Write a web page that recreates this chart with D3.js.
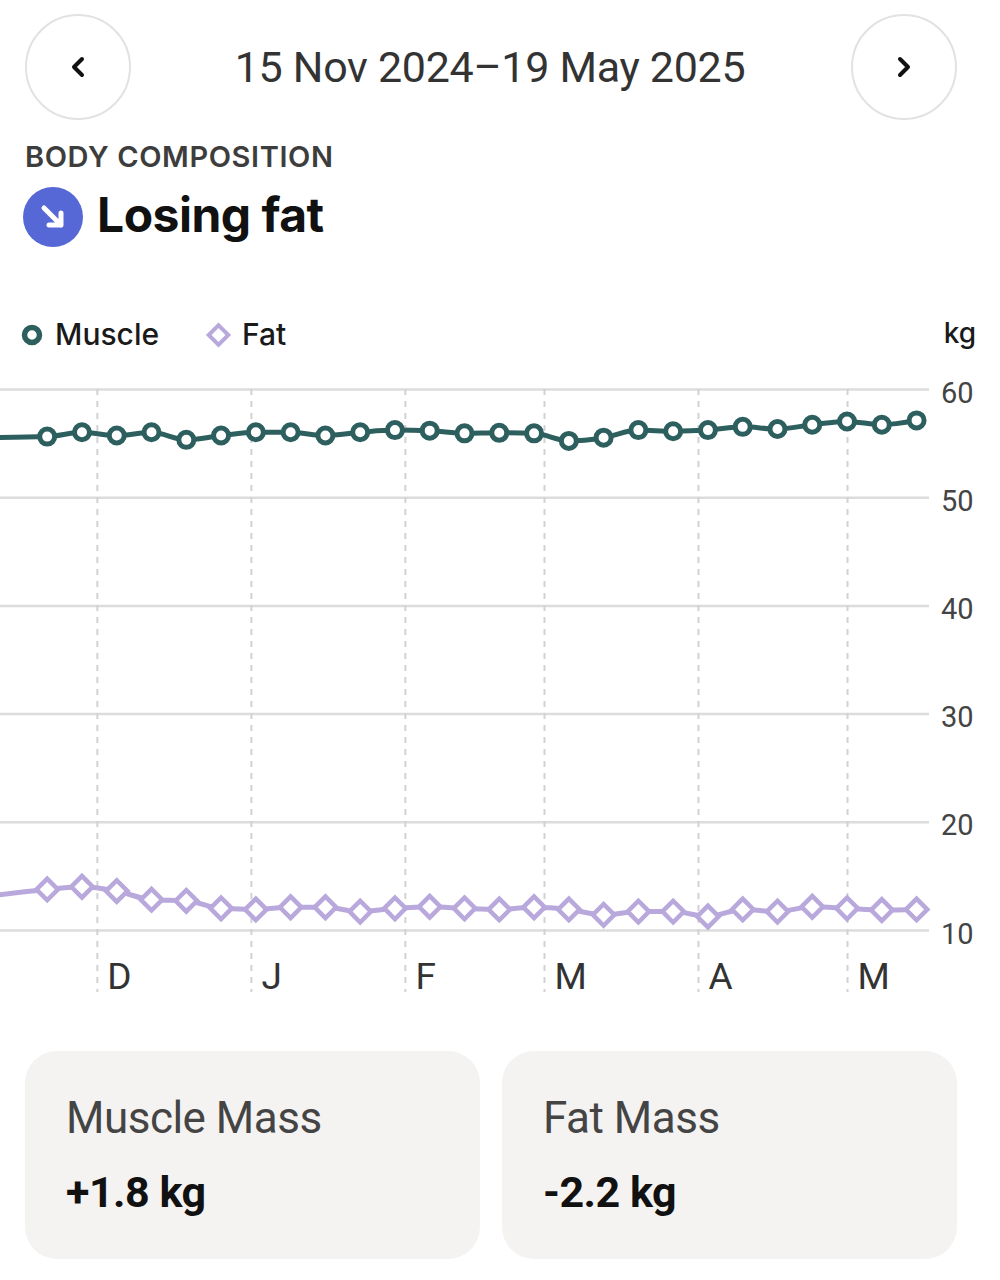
<!DOCTYPE html>
<meta charset="utf-8">

<style type="text/css">

	body {
	    margin: 0;
	    background: #fff;
	}

	/* lines are plain strokes, no fill */
	.line {
	    fill: none;
	}

	.y.axis text {
	    font-family: Roboto, sans-serif;
	    font-size: 29px;
	    fill: #444;
	}

	.x.axis text {
	    font-family: Roboto, sans-serif;
	    font-size: 37px;
	    fill: #333;
	}

</style>
<body>
</body>

<!-- Load in the d3 library -->
<script src="https://d3js.org/d3.v7.min.js"></script>
<script>

// weekly weigh-ins (first one sits just left of the visible window)
var dates = ["2024-11-07", "2024-11-21", "2024-11-28", "2024-12-05", "2024-12-12", "2024-12-19", "2024-12-26",
             "2025-01-02", "2025-01-09", "2025-01-16", "2025-01-23", "2025-01-30", "2025-02-06", "2025-02-13",
             "2025-02-20", "2025-02-27", "2025-03-06", "2025-03-13", "2025-03-20", "2025-03-27", "2025-04-03",
             "2025-04-10", "2025-04-17", "2025-04-24", "2025-05-01", "2025-05-08", "2025-05-15"];

var muscle = [55.5, 55.6, 56.0, 55.7, 56.0, 55.3, 55.7,
              56.0, 56.0, 55.7, 56.0, 56.2, 56.15, 55.9,
              55.95, 55.9, 55.2, 55.5, 56.2, 56.1, 56.2,
              56.5, 56.3, 56.7, 57.0, 56.7, 57.1];

var fat = [13.0, 13.75, 14.0, 13.6, 12.8, 12.7, 12.0,
           11.9, 12.1, 12.1, 11.7, 12.0, 12.15, 12.0,
           11.9, 12.1, 11.9, 11.4, 11.7, 11.7, 11.25,
           11.9, 11.7, 12.15, 12.0, 11.85, 11.9];

// axis ticks
var monthTicks = ["2024-12-01", "2025-01-01", "2025-02-01", "2025-03-01", "2025-04-01", "2025-05-01"];
var monthLabels = ["D", "J", "F", "M", "A", "M"];
var kgTicks = [10, 20, 30, 40, 50, 60];

// texts
var dateRange = "15 Nov 2024\u201319 May 2025";
var seriesNames = ["Muscle", "Fat"];
var summaryLabels = ["Muscle Mass", "Fat Mass"];
var summaryValues = ["+1.8 kg", "-2.2 kg"];

var teal = "#2e5f5f",
    lilac = "#b9a8dc";

var parse = d3.timeParse("%Y-%m-%d");

var width = 1000, height = 1280;
var plotRight = 929, plotTop = 389, plotBottom = 930;

var svg = d3.select("body").append("svg")
    .attr("width", width)
    .attr("height", height);

// ---------- header ----------
var navX = [78, 904];
svg.selectAll(".nav")
    .data(navX)
  .enter().append("circle")
    .attr("class", "nav")
    .attr("cx", function(d) { return d; })
    .attr("cy", 67)
    .attr("r", 52)
    .attr("fill", "#fff")
    .attr("stroke", "#e2e2e2")
    .attr("stroke-width", 2);

// chevrons
svg.append("path")
    .attr("d", "M82,59 L74,67 L82,75")
    .attr("fill", "none").attr("stroke", "#111").attr("stroke-width", 4)
    .attr("stroke-linecap", "round").attr("stroke-linejoin", "round");
svg.append("path")
    .attr("d", "M900,59 L908,67 L900,75")
    .attr("fill", "none").attr("stroke", "#111").attr("stroke-width", 4)
    .attr("stroke-linecap", "round").attr("stroke-linejoin", "round");

svg.append("text")
    .attr("x", 490).attr("y", 82)
    .attr("text-anchor", "middle")
    .style("font-family", "Roboto, sans-serif")
    .style("font-size", "43px")
    .style("letter-spacing", "-0.3px")
    .attr("fill", "#333")
    .text(dateRange);

svg.append("text")
    .attr("x", 25).attr("y", 167)
    .style("font-family", "Inter, sans-serif")
    .style("font-size", "29px")
    .style("font-weight", 600)
    .style("letter-spacing", "0.6px")
    .attr("fill", "#3d3d3d")
    .text("BODY COMPOSITION");

// trend badge
svg.append("circle")
    .attr("cx", 53).attr("cy", 217).attr("r", 30)
    .attr("fill", "#5667d6");
svg.append("path")
    .attr("d", "M44,208 L61,225 M61,213 L61,225 L49,225")
    .attr("fill", "none").attr("stroke", "#fff").attr("stroke-width", 5)
    .attr("stroke-linecap", "round").attr("stroke-linejoin", "round");

svg.append("text")
    .attr("x", 97).attr("y", 232)
    .style("font-family", "Inter, sans-serif")
    .style("font-size", "48px")
    .style("font-weight", 700)
    .style("letter-spacing", "-0.5px")
    .attr("fill", "#111")
    .text("Losing fat");

// ---------- scales ----------
var xScale = d3.scaleTime()
    .domain([new Date(2024, 10, 11, 12), new Date(2025, 4, 17, 12)])
    .range([0, plotRight]);

var yScale = d3.scaleLinear()
    .domain([10, 60])
    .range([plotBottom, plotTop]);

// horizontal grid + kg labels
var yAxis = svg.append("g")
    .attr("class", "y axis")
    .call(d3.axisRight(yScale).tickValues(kgTicks).tickSize(plotRight).tickPadding(12));
yAxis.select(".domain").remove();
yAxis.selectAll("line").attr("stroke", "#dcdcdc").attr("stroke-width", 2.5);
yAxis.selectAll("text").attr("dy", "0.38em").attr("y", 2);

// month dashed lines + letters
var xAxis = svg.append("g")
    .attr("class", "x axis")
    .attr("transform", "translate(0," + plotTop + ")")
    .call(d3.axisBottom(xScale)
        .tickValues(monthTicks.map(parse))
        .tickSize(603)
        .tickFormat(function(d, i) { return monthLabels[i]; }));
xAxis.select(".domain").remove();
xAxis.selectAll("line")
    .attr("stroke", "#d2d2d2")
    .attr("stroke-width", 2)
    .attr("stroke-dasharray", "6,6");
xAxis.selectAll("text")
    .attr("text-anchor", "start")
    .attr("x", 10)
    .attr("y", 600)
    .attr("dy", 0);

// ---------- legend ----------
svg.append("circle")
    .attr("cx", 32).attr("cy", 335).attr("r", 7.5)
    .attr("fill", "#fff").attr("stroke", teal).attr("stroke-width", 5.5);
svg.append("path")
    .attr("d", d3.symbol().type(d3.symbolSquare).size(190))
    .attr("transform", "translate(218.5,335) rotate(45)")
    .attr("fill", "#fff").attr("stroke", lilac).attr("stroke-width", 4);

svg.selectAll(".legend")
    .data(seriesNames)
  .enter().append("text")
    .attr("class", "legend")
    .attr("x", function(d, i) { return i === 0 ? 55 : 242; })
    .attr("y", 345)
    .style("font-family", "Inter, sans-serif")
    .style("font-size", "30px")
    .style("font-weight", 500)
    .attr("fill", "#1a1a1a")
    .text(function(d) { return d; });

svg.append("text")
    .attr("x", 976).attr("y", 343)
    .attr("text-anchor", "end")
    .style("font-family", "Inter, sans-serif")
    .style("font-size", "28px")
    .style("font-weight", 500)
    .attr("fill", "#1a1a1a")
    .text("kg");

// ---------- series ----------
var muscleData = dates.map(function(d, i) { return {date: parse(d), value: muscle[i]}; });
var fatData = dates.map(function(d, i) { return {date: parse(d), value: fat[i]}; });

var line = d3.line()
    .x(function(d) { return xScale(d.date); })
    .y(function(d) { return yScale(d.value); })
    .curve(d3.curveMonotoneX);

svg.append("path")
    .datum(fatData)
    .attr("class", "line")
    .attr("stroke", lilac)
    .attr("stroke-width", 5)
    .attr("d", line);

svg.selectAll(".fatpt")
    .data(fatData.slice(1))
  .enter().append("path")
    .attr("class", "fatpt")
    .attr("d", d3.symbol().type(d3.symbolSquare).size(230))
    .attr("transform", function(d) { return "translate(" + xScale(d.date) + "," + yScale(d.value) + ") rotate(45)"; })
    .attr("fill", "#fff")
    .attr("stroke", lilac)
    .attr("stroke-width", 4.5);

svg.append("path")
    .datum(muscleData)
    .attr("class", "line")
    .attr("stroke", teal)
    .attr("stroke-width", 5)
    .attr("d", line);

svg.selectAll(".musclept")
    .data(muscleData.slice(1))
  .enter().append("circle")
    .attr("class", "musclept")
    .attr("cx", function(d) { return xScale(d.date); })
    .attr("cy", function(d) { return yScale(d.value); })
    .attr("r", 7.5)
    .attr("fill", "#fff")
    .attr("stroke", teal)
    .attr("stroke-width", 5);

// ---------- summary cards ----------
var cardX = [25, 502];
var cards = svg.selectAll(".card")
    .data(summaryLabels)
  .enter().append("g")
    .attr("class", "card")
    .attr("transform", function(d, i) { return "translate(" + cardX[i] + ",1051)"; });

cards.append("rect")
    .attr("width", 455).attr("height", 208)
    .attr("rx", 32)
    .attr("fill", "#f4f3f2");

cards.append("text")
    .attr("x", 41).attr("y", 82)
    .style("font-family", "Roboto, sans-serif")
    .style("font-size", "44px")
    .style("letter-spacing", "-0.5px")
    .attr("fill", "#444")
    .text(function(d) { return d; });

cards.append("text")
    .attr("x", 41).attr("y", 156)
    .style("font-family", "Roboto, sans-serif")
    .style("font-size", "43px")
    .style("font-weight", 700)
    .style("letter-spacing", "-0.5px")
    .attr("fill", "#111")
    .text(function(d, i) { return summaryValues[i]; });

</script>
